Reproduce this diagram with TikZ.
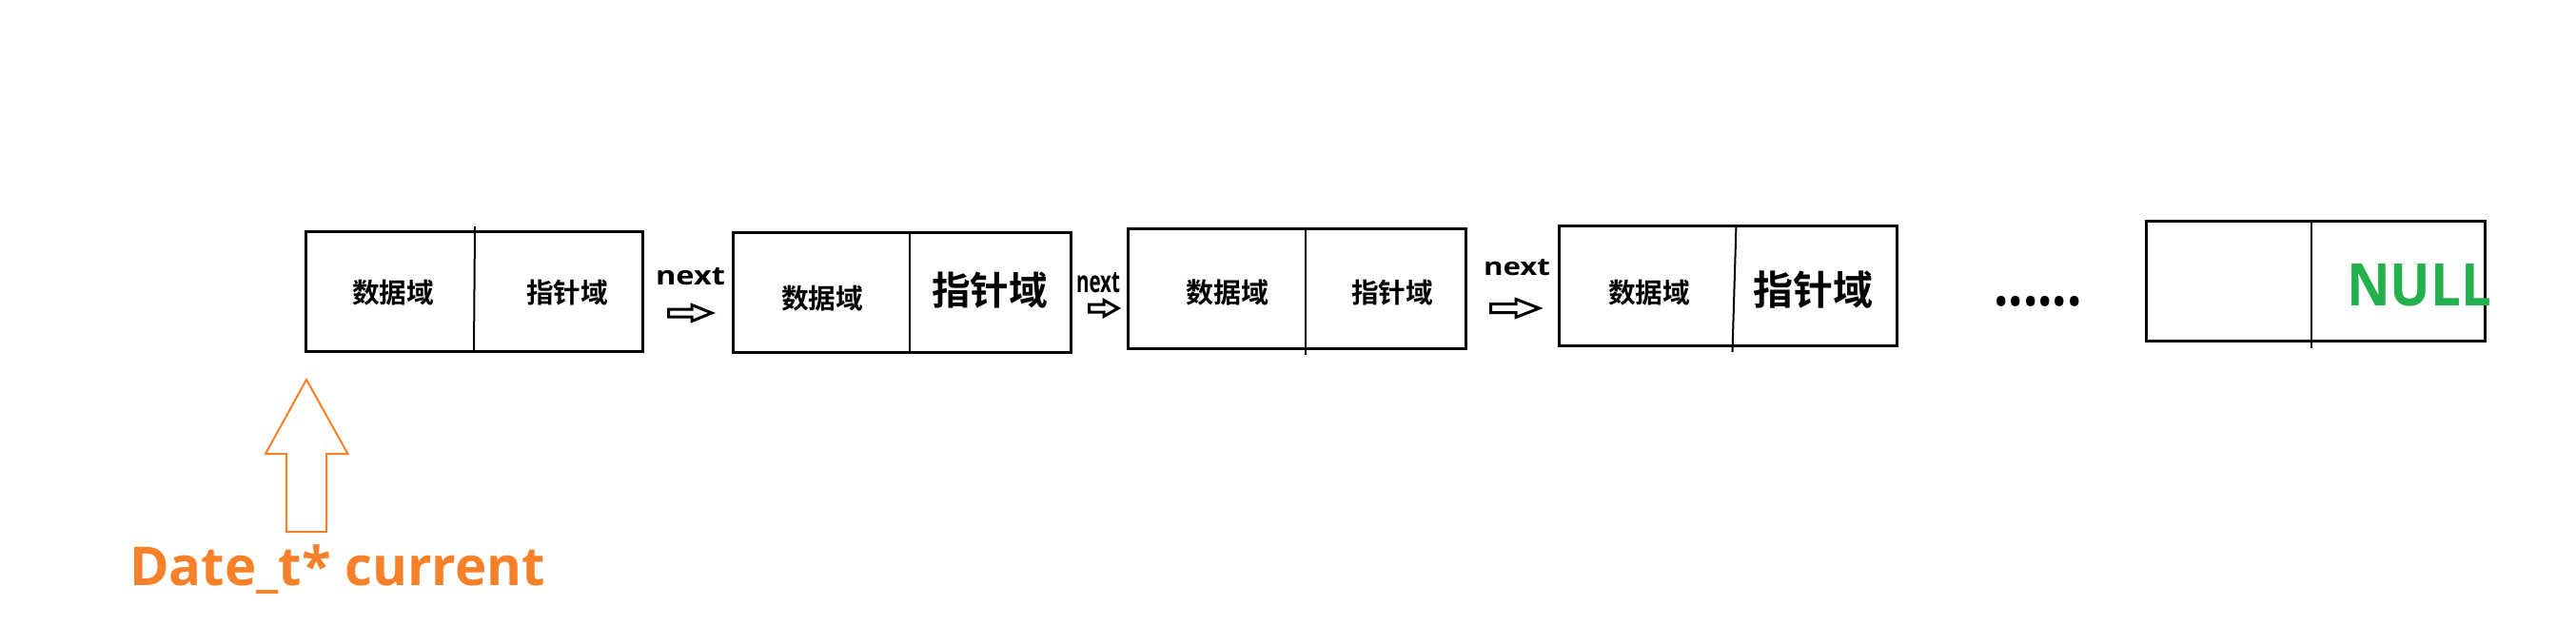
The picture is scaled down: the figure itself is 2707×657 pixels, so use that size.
\documentclass[tikz,border=0pt]{standalone}
\usepackage{fontspec}
\usepackage{graphicx}
\setmainfont{Open Sans}
\newfontfamily\cjk{Noto Sans CJK SC}[UprightFont=* Bold]
\definecolor{curorange}{RGB}{248,128,40}
\definecolor{nullgreen}{RGB}{34,177,76}
\newcommand{\fitw}[2]{\resizebox{#1pt}{!}{#2}}
\newcommand{\fitwh}[3]{\resizebox{#1pt}{#2pt}{#3}}
\newcommand{\blockarrow}[6]{\draw[hollow] (#1,#4-#6) -- (#2,#4-#6) -- (#2,#4-#5) -- (#3,#4) -- (#2,#4+#5) -- (#2,#4+#6) -- (#1,#4+#6) -- cycle;}
\begin{document}
\begin{tikzpicture}[x=1pt,y=-1pt,
  listbox/.style={draw=black,line width=3pt,minimum width=355pt,minimum height=126pt,inner sep=0pt},
  divider/.style={draw=black,line width=2pt},
  lbl/.style={inner sep=0pt,outer sep=0pt},
  hollow/.style={draw=black,line width=3pt,fill=white,line join=miter},
  ptr/.style={draw=curorange,line width=2pt,fill=white}]
\useasboundingbox[fill=white] (0,0) rectangle (2707,657);

% boxes
\node[listbox,minimum width=354pt] (b1) at (498.5,306) {};
\node[listbox] (b2) at (948,307) {};
\node[listbox] (b3) at (1363,303) {};
\node[listbox] (b4) at (1816,300) {};
\node[listbox,minimum width=356pt] (b5) at (2433.5,295) {};

% dividers
\draw[divider] (499,238) -- (498,370);
\draw[divider] (956,243) -- (956,371);
\draw[divider] (1372,239) -- (1372,372.7);
\draw[divider] (1824.5,236) -- (1820.5,370);
\draw[divider] (2429,231) -- (2429,366);

% labels in boxes
\node[lbl] (d1) at (413,308) {\fitw{86}{\cjk 数据域}};
\node[lbl] (p1) at (596,308) {\fitw{86}{\cjk 指针域}};
\node[lbl] (d2) at (864,314) {\fitw{86}{\cjk 数据域}};
\node[lbl] (p2) at (1040,305.5) {\fitw{122}{\cjk 指针域}};
\node[lbl] (d3) at (1289.5,307.5) {\fitw{87}{\cjk 数据域}};
\node[lbl] (p3) at (1463,308) {\fitw{86}{\cjk 指针域}};
\node[lbl] (d4) at (1733,307.5) {\fitw{86}{\cjk 数据域}};
\node[lbl] (p4) at (1905,305) {\fitw{126}{\cjk 指针域}};
\node[lbl,text=nullgreen] (null) at (2542,300) {\fitwh{152}{44}{\bfseries NULL}};

% next labels
\node[lbl] (n1) at (725.5,291) {\fitwh{73}{18}{\bfseries next}};
\node[lbl] (n2) at (1154,297) {\fitwh{46}{21}{\bfseries next}};
\node[lbl] (n3) at (1594,281.5) {\fitwh{70}{17}{\bfseries next}};

% hollow arrows
\blockarrow{702.5}{727}{748}{329}{8.5}{4}
\blockarrow{1144.5}{1160}{1175}{324}{8.5}{4}
\blockarrow{1566.5}{1593}{1617.5}{324}{9.5}{4.5}

% ellipsis
\node[lbl] (dots) at (2141.5,316.7) {\fitwh{93}{10}{\bfseries ......}};

% current pointer
\draw[ptr] (322,399) -- (365.5,477) -- (343,477) -- (343,559) -- (301,559) -- (301,477) -- (279,477) -- cycle;
\node[lbl,anchor=base west,text=curorange] (cur) at (136,615) {\fitw{437}{\bfseries Date\_t* current}};
\end{tikzpicture}
\end{document}
